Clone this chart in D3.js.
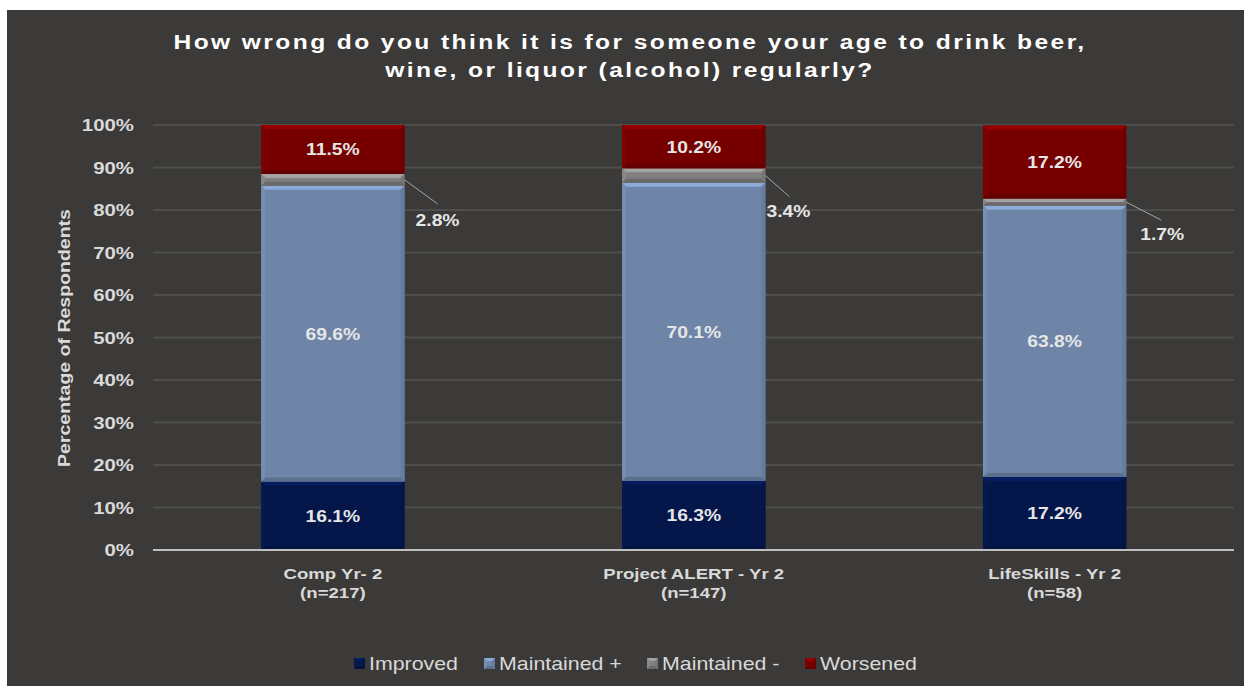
<!DOCTYPE html>
<html lang="en">
<head>
    <meta charset="UTF-8">
    <title>How wrong</title>
    <script src="https://cdn.jsdelivr.net/npm/d3@7"></script>
    <style>
        body { margin: 0; background: #fff; }
        text { font-family: "Liberation Sans", Arial, sans-serif; }
    </style>
</head>
<body>
</body>
<script>
    // data
    var categories = ['Comp Yr- 2', 'Project ALERT - Yr 2', 'LifeSkills - Yr 2'];
    var sampleSizes = ['(n=217)', '(n=147)', '(n=58)'];
    var seriesNames = ['Improved', 'Maintained +', 'Maintained -', 'Worsened'];
    var improved = [16.1, 16.3, 17.2];
    var maintainedPlus = [69.6, 70.1, 63.8];
    var maintainedMinus = [2.8, 3.4, 1.7];
    var worsened = [11.5, 10.2, 17.2];
    var yTicks = [0, 10, 20, 30, 40, 50, 60, 70, 80, 90, 100];

    var colors = ['#05174a', '#6e85a8', '#7f7f7f', '#760000'];

    var width = 1244, height = 686;
    var svg = d3.select('body').append('svg')
        .attr('width', width)
        .attr('height', height);

    svg.append('rect')
        .attr('x', 7).attr('y', 10)
        .attr('width', width - 7).attr('height', height - 10)
        .attr('fill', '#3b3a38');

    // text that is a bit wider than the font (like the original)
    function wideText(g, x0, y0, str, size, bold, sx, anchor, fill) {
        return g.append('text')
            .attr('transform', 'translate(' + x0 + ',' + y0 + ') scale(' + sx + ',1)')
            .attr('text-anchor', anchor || 'middle')
            .attr('fill', fill || '#d9d9d9')
            .style('font-weight', bold ? 'bold' : 'normal')
            .style('font-size', size + 'px')
            .text(str);
    }

    // title
    wideText(svg, 630, 49, 'How wrong do you think it is for someone your age to drink beer,', 20.5, true, 1.2, 'middle', '#fff')
        .style('letter-spacing', '2px');
    wideText(svg, 630, 77, 'wine, or liquor (alcohol) regularly?', 20.5, true, 1.2, 'middle', '#fff')
        .style('letter-spacing', '2px');

    var x = d3.scaleBand().domain(categories).range([153, 1234.5]).paddingInner(0.603).paddingOuter(0.3);
    var y = d3.scaleLinear().domain([0, 100]).range([550, 125]);

    // grid
    svg.append('g').selectAll('line')
        .data(yTicks.slice(1))
        .join('line')
        .attr('x1', 153).attr('x2', 1234)
        .attr('y1', function (d) { return y(d); })
        .attr('y2', function (d) { return y(d); })
        .attr('stroke', '#4f4e4c')
        .attr('stroke-width', 2);

    // y axis labels
    var yl = svg.append('g');
    yTicks.forEach(function (d) {
        wideText(yl, 134, y(d) + 6, d + '%', 17, true, 1.2, 'end');
    });

    svg.append('text')
        .attr('transform', 'translate(70,338) rotate(-90) scale(1.22,1)')
        .attr('text-anchor', 'middle')
        .attr('fill', '#d9d9d9')
        .style('font-weight', 'bold')
        .style('font-size', '16px')
        .text('Percentage of Respondents');

    // stacked data
    var rows = categories.map(function (c, i) {
        return { cat: c, Improved: improved[i], 'Maintained +': maintainedPlus[i],
            'Maintained -': maintainedMinus[i], Worsened: worsened[i] };
    });
    var stack = d3.stack().keys(seriesNames)(rows);

    function shade(c, k) {
        return k > 0 ? d3.color(c).brighter(k).formatHex() : d3.color(c).darker(-k).formatHex();
    }

    // bevel rectangle
    function bevelRect(g, x0, y0, w, h, col, b) {
        b = Math.min(b, h / 2);
        g.append('rect').attr('x', x0).attr('y', y0).attr('width', w).attr('height', h).attr('fill', col);
        var x1 = x0 + w, y1 = y0 + h;
        g.append('polygon')
            .attr('points', [[x0, y0], [x1, y0], [x1 - b, y0 + b], [x0 + b, y0 + b]].join(' '))
            .attr('fill', shade(col, 0.7));
        g.append('polygon')
            .attr('points', [[x0, y0], [x0 + b, y0 + b], [x0 + b, y1 - b], [x0, y1]].join(' '))
            .attr('fill', shade(col, 0.2));
        g.append('polygon')
            .attr('points', [[x1, y0], [x1, y1], [x1 - b, y1 - b], [x1 - b, y0 + b]].join(' '))
            .attr('fill', shade(col, -0.2));
        g.append('polygon')
            .attr('points', [[x0, y1], [x1, y1], [x1 - b, y1 - b], [x0 + b, y1 - b]].join(' '))
            .attr('fill', shade(col, -0.5));
    }

    var bars = svg.append('g');
    stack.forEach(function (layer, si) {
        layer.forEach(function (d) {
            var g = bars.append('g');
            var top = y(d[1]), bot = y(d[0]);
            bevelRect(g, x(d.data.cat), top, x.bandwidth(), bot - top, colors[si], 4);
        });
    });

    // value labels inside
    var labels = svg.append('g');
    stack.forEach(function (layer, si) {
        if (si === 2) return;
        layer.forEach(function (d) {
            wideText(labels, x(d.data.cat) + x.bandwidth() / 2, y((d[0] + d[1]) / 2) + 6,
                (d[1] - d[0]).toFixed(1) + '%', 16.5, true, 1.17, 'middle', '#e6e6e6');
        });
    });

    // maintained - labels with leader lines
    var offsets = [[33, 24, 33, 40], [24, 21, 23, 35], [35, 18, 36, 32]];
    stack[2].forEach(function (d, i) {
        var x0 = x(d.data.cat) + x.bandwidth();
        var yc = y((d[0] + d[1]) / 2);
        var o = offsets[i];
        labels.append('line')
            .attr('x1', x0).attr('y1', yc)
            .attr('x2', x0 + o[0]).attr('y2', yc + o[1])
            .attr('stroke', '#a6a6a6').attr('stroke-width', 1);
        wideText(labels, x0 + o[2], yc + o[3] + 6, d.data[seriesNames[2]].toFixed(1) + '%',
            16.5, true, 1.17, 'middle', '#e6e6e6');
    });

    // baseline
    svg.append('line')
        .attr('x1', 153).attr('x2', 1234)
        .attr('y1', y(0)).attr('y2', y(0))
        .attr('stroke', '#bfbfbf').attr('stroke-width', 2);

    // x labels
    var xl = svg.append('g');
    categories.forEach(function (c, i) {
        var cx = x(c) + x.bandwidth() / 2;
        wideText(xl, cx, 579, c, 15.5, true, 1.2);
        wideText(xl, cx, 598, sampleSizes[i], 15.5, true, 1.2);
    });

    // legend
    var legendX = [354, 484, 647, 805];
    var lg = svg.append('g');
    seriesNames.forEach(function (n, i) {
        var g = lg.append('g');
        bevelRect(g, legendX[i], 658, 11, 11, colors[i], 3);
        wideText(g, legendX[i] + 15, 670, n, 17.5, false, 1.22, 'start');
    });
</script>
</html>
